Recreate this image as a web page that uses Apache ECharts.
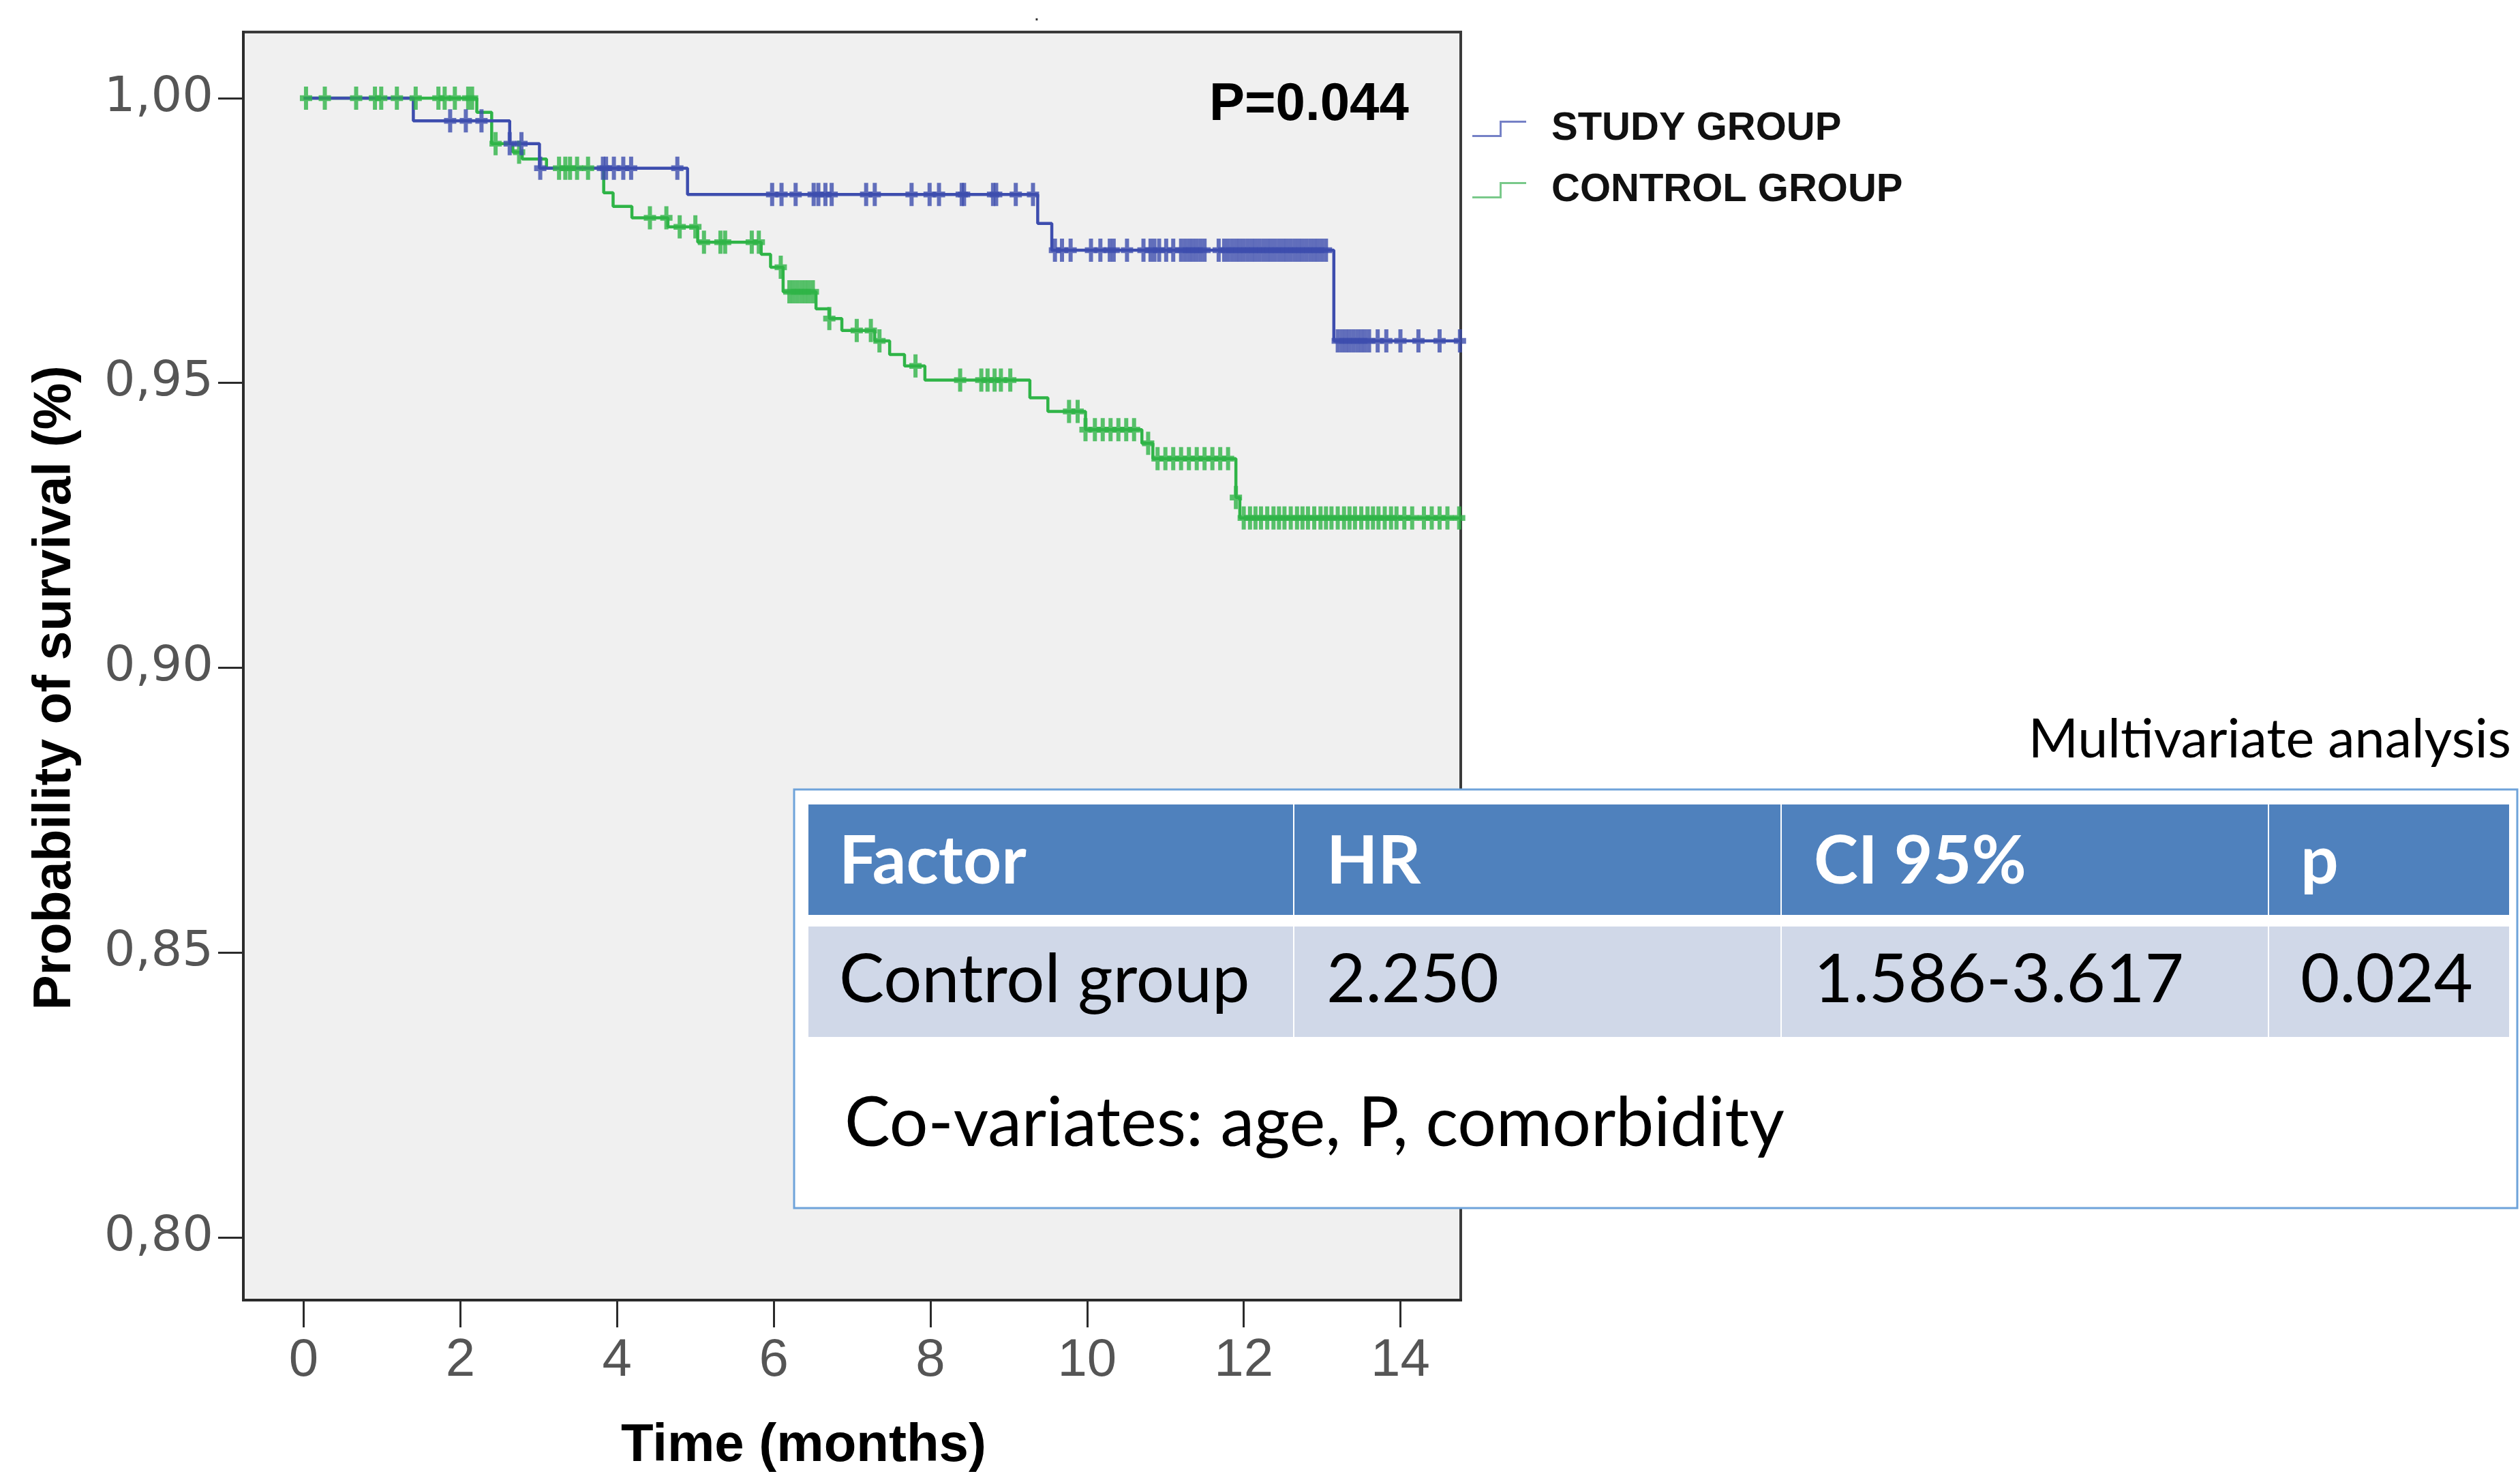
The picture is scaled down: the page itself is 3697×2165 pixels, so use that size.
<!DOCTYPE html>
<html>
<head>
<meta charset="utf-8">
<script src="https://cdn.jsdelivr.net/npm/echarts@6/dist/echarts.min.js"></script>
<style>
  html, body { margin: 0; padding: 0; background: #ffffff; }
  #chart { width: 3697px; height: 2165px; }
</style>
</head>
<body>
<div id="chart"></div>
<script>
// ---------- DATA ----------
const seriesNames = ['STUDY GROUP', 'CONTROL GROUP'];

// Kaplan-Meier step points (time in months, survival after the step)
const studyTimes = [0, 1.40, 2.63, 3.01, 4.90, 9.37, 9.55, 13.15, 14.77];
const studySurv  = [1.000, 0.9960, 0.9920, 0.9877, 0.9831, 0.9780, 0.9733, 0.9574, 0.9574];

const controlTimes = [0, 2.21, 2.40, 2.67, 2.79, 3.10, 3.83, 3.95, 4.19, 4.65, 5.03, 5.84, 5.96, 6.12, 6.54, 6.71, 6.87, 7.29, 7.48, 7.67, 7.93, 9.27, 9.50, 9.98, 10.70, 10.84, 11.90, 11.95, 14.77];
const controlSurv  = [1.000, 0.9975, 0.9920, 0.9905, 0.9893, 0.9877, 0.9834, 0.9810, 0.9790, 0.9774, 0.9747, 0.9726, 0.9703, 0.9660, 0.9630, 0.9613, 0.9592, 0.9574, 0.9550, 0.9530, 0.9505, 0.9474, 0.9450, 0.9418, 0.9394, 0.9367, 0.9299, 0.9263, 0.9263];

// Censoring times (months)
const studyCensor = [1.87, 2.07, 2.27, 2.63, 2.78, 3.02, 3.82, 3.86, 3.96, 4.08, 4.18, 4.77,
  5.98, 6.10, 6.28, 6.51, 6.57, 6.66, 6.74, 7.18, 7.29, 7.76, 7.99, 8.11, 8.40, 8.43, 8.80, 8.84, 9.09, 9.31,
  9.59, 9.68, 9.79, 10.05, 10.17, 10.29, 10.34, 10.51, 10.72, 10.81, 10.86, 10.92, 11.01, 11.10,
  11.20, 11.25, 11.30, 11.35, 11.40, 11.45, 11.50, 11.68, 11.75, 11.80, 11.85, 11.90, 11.95, 12.00,
  12.05, 12.10, 12.15, 12.20, 12.25, 12.30, 12.35, 12.40, 12.45, 12.50, 12.55, 12.60, 12.65, 12.70,
  12.75, 12.80, 12.85, 12.90, 12.95, 13.00, 13.05,
  13.20, 13.25, 13.30, 13.35, 13.40, 13.45, 13.50, 13.55, 13.60, 13.71, 13.82, 14.00, 14.23, 14.50, 14.76];

const controlCensor = [0.03, 0.27, 0.67, 0.91, 0.99, 1.19, 1.43, 1.72, 1.80, 1.93, 2.10, 2.15,
  2.45, 2.75, 3.26, 3.34, 3.40, 3.49, 3.63, 4.42, 4.63, 4.80, 5.00, 5.11, 5.32, 5.38, 5.72, 5.81,
  6.09, 6.20, 6.25, 6.30, 6.35, 6.40, 6.45, 6.50, 6.71, 7.06, 7.24, 7.35, 7.81,
  8.38, 8.65, 8.73, 8.82, 8.90, 9.02, 9.77, 9.88, 9.98, 10.10, 10.20, 10.30, 10.40, 10.50, 10.60,
  10.78, 10.90, 11.00, 11.10, 11.20, 11.30, 11.40, 11.50, 11.60, 11.70, 11.80, 11.90,
  12.00, 12.08, 12.15, 12.22, 12.30, 12.38, 12.45, 12.52, 12.60, 12.68, 12.75, 12.82, 12.90, 12.98,
  13.05, 13.12, 13.20, 13.28, 13.35, 13.42, 13.50, 13.58, 13.65, 13.72, 13.80, 13.88, 13.95,
  14.05, 14.15, 14.30, 14.40, 14.50, 14.60, 14.75];

const xTicks = [0, 2, 4, 6, 8, 10, 12, 14];
const yTicks = [0.80, 0.85, 0.90, 0.95, 1.00];

const pValueText = 'P=0.044';
const xTitle = 'Time (months)';
const yTitle = 'Probability of survival (%)';

const tableCaption = 'Multivariate analysis';
const tableHeaders = ['Factor', 'HR', 'CI 95%', 'p'];
const tableRow = ['Control group', '2.250', '1.586-3.617', '0.024'];
const tableNote = 'Co-variates: age, P, comorbidity';

// ---------- HELPERS ----------
function stepPairs(times, surv) { return times.map((t, i) => [t, surv[i]]); }
function survAt(times, surv, t) {
  let v = surv[0];
  for (let i = 0; i < times.length; i++) { if (times[i] <= t) v = surv[i]; }
  return v;
}
function censorPairs(cens, times, surv) { return cens.map(t => [t, survAt(times, surv, t)]); }

const BLUE = '#3D4DAE';
const GREEN = '#2FB447';
const plusPath = 'path://M6,0H12V12H18V20H12V32H6V20H0V12H6Z';
const stepIcon = 'path://M0,21H40V0H79V3H43V24H0Z';

// ---------- TABLE GRAPHICS ----------
const colX = [1186, 1899, 2614, 3329];
const colR = [1897, 2612, 3327, 3681];
const textX = [1231, 1946, 2661, 3375];
const tableEls = [];
tableEls.push({ type: 'rect', z: 100, shape: { x: 1165, y: 1158, width: 2528, height: 614 },
  style: { fill: '#ffffff', stroke: '#6FA3DA', lineWidth: 3 } });
for (let i = 0; i < 4; i++) {
  tableEls.push({ type: 'rect', z: 101, shape: { x: colX[i], y: 1180, width: colR[i] - colX[i], height: 162 },
    style: { fill: '#4F81BD' } });
  tableEls.push({ type: 'rect', z: 101, shape: { x: colX[i], y: 1359, width: colR[i] - colX[i], height: 162 },
    style: { fill: '#D0D8E8' } });
  tableEls.push({ type: 'text', z: 102, x: textX[i], y: 1264,
    style: { text: tableHeaders[i], fill: '#ffffff', fontFamily: 'Lato', fontWeight: 'bold', fontSize: 98,
      align: 'left', verticalAlign: 'middle' } });
  tableEls.push({ type: 'text', z: 102, x: textX[i], y: 1438,
    style: { text: tableRow[i], fill: '#000000', fontFamily: 'Lato', fontWeight: 'normal', fontSize: 99,
      align: 'left', verticalAlign: 'middle' } });
}
tableEls.push({ type: 'text', z: 102, x: 1239, y: 1649,
  style: { text: tableNote, fill: '#000000', fontFamily: 'Lato', fontSize: 100, align: 'left', verticalAlign: 'middle' } });
tableEls.push({ type: 'text', z: 102, x: 3684, y: 1086,
  style: { text: tableCaption, fill: '#000000', fontFamily: 'Lato', fontSize: 79, align: 'right', verticalAlign: 'middle' } });

const otherEls = [
  { type: 'text', z: 50, x: 1774, y: 154,
    style: { text: pValueText, fill: '#000', fontFamily: 'Liberation Sans', fontWeight: 'bold', fontSize: 78,
      align: 'left', verticalAlign: 'middle' } },
  { type: 'text', z: 50, x: 1179, y: 2121,
    style: { text: xTitle, fill: '#000', fontFamily: 'Liberation Sans', fontWeight: 'bold', fontSize: 78,
      align: 'center', verticalAlign: 'middle' } },
  { type: 'text', z: 50, x: 82, y: 1009, rotation: Math.PI / 2,
    style: { text: yTitle, fill: '#000', fontFamily: 'Liberation Sans', fontWeight: 'bold', fontSize: 77,
      align: 'center', verticalAlign: 'middle' } },
  { type: 'text', z: 50, x: 1521, y: 22,
    style: { text: '.', fill: '#333', fontFamily: 'Liberation Sans', fontSize: 30, align: 'center', verticalAlign: 'middle' } }
];

// ---------- CHART ----------
const chart = echarts.init(document.getElementById('chart'), null, { renderer: 'canvas' });
chart.setOption({
  animation: false,
  backgroundColor: '#ffffff',
  grid: {
    left: 357, right: 1554, top: 47, bottom: 258,
    show: true, backgroundColor: '#F0F0F0', borderColor: '#3a3a3a', borderWidth: 4
  },
  legend: {
    orient: 'vertical', left: 2155, top: 151,
    itemWidth: 79, itemHeight: 24, itemGap: 24,
    data: [
      { name: seriesNames[0], icon: stepIcon, itemStyle: { color: '#7581C6', borderWidth: 0 } },
      { name: seriesNames[1], icon: stepIcon, itemStyle: { color: '#79C98A', borderWidth: 0 } }
    ],
    textStyle: { fontFamily: 'Liberation Sans', fontWeight: 'bold', fontSize: 58, color: '#111',
      lineHeight: 66, padding: [0, 0, 0, 32] }
  },
  xAxis: {
    type: 'value', min: -0.77, max: 14.77,
    axisLine: { show: true, onZero: false, lineStyle: { color: '#2b2b2b', width: 4 } },
    axisTick: { show: true, customValues: xTicks, length: 40, lineStyle: { color: '#2b2b2b', width: 3 } },
    axisLabel: { customValues: xTicks, margin: 50, fontFamily: 'Liberation Sans', fontSize: 78, color: '#555' },
    splitLine: { show: false }
  },
  yAxis: {
    type: 'value', min: 0.789, max: 1.0116,
    axisLine: { show: true, onZero: false, lineStyle: { color: '#2b2b2b', width: 4 } },
    axisTick: { show: true, customValues: yTicks, length: 37, lineStyle: { color: '#2b2b2b', width: 3 } },
    axisLabel: { customValues: yTicks, margin: 44, fontFamily: 'DejaVu Sans', fontSize: 72, color: '#555',
      formatter: v => v.toFixed(2).replace('.', ',') },
    splitLine: { show: false }
  },
  series: [
    { name: seriesNames[0], type: 'line', step: 'end', data: stepPairs(studyTimes, studySurv),
      showSymbol: false, symbol: 'none', color: BLUE, lineStyle: { color: BLUE, width: 4.5 }, z: 3 },
    { name: seriesNames[1], type: 'line', step: 'end', data: stepPairs(controlTimes, controlSurv),
      showSymbol: false, symbol: 'none', color: GREEN, lineStyle: { color: GREEN, width: 4.5 }, z: 2 },
    { name: 'study censored', type: 'scatter', data: censorPairs(studyCensor, studyTimes, studySurv),
      symbol: plusPath, symbolSize: [18, 34], itemStyle: { color: BLUE }, z: 4 },
    { name: 'control censored', type: 'scatter', data: censorPairs(controlCensor, controlTimes, controlSurv),
      symbol: plusPath, symbolSize: [18, 34], itemStyle: { color: GREEN }, z: 3 }
  ],
  graphic: { elements: otherEls.concat(tableEls) }
});
</script>
</body>
</html>
